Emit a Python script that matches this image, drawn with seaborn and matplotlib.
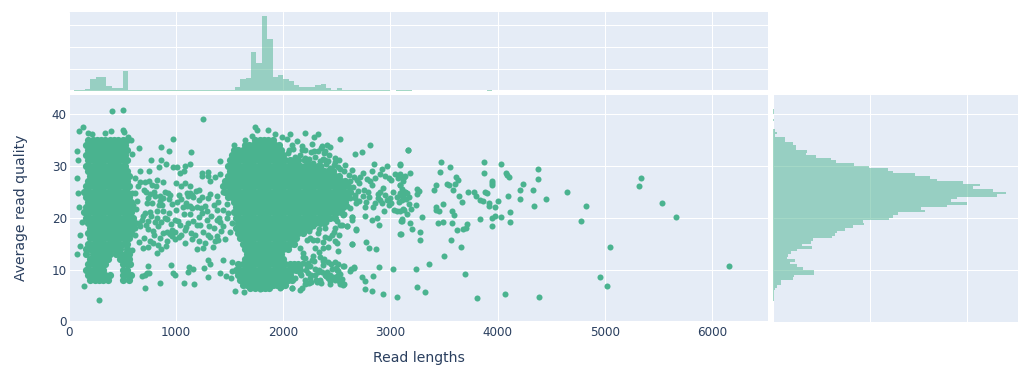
import pandas as pd
import matplotlib
matplotlib.use('Agg')
import matplotlib.pyplot as plt
import seaborn as sns

# read lengths, one list per horizontal band of the two dense clumps
short_q = [35, 34, 33, 32, 31, 30, 29, 28, 27, 26, 25, 24, 23, 22, 21, 20, 19, 18, 17, 16, 15, 14, 13, 12, 11, 10, 9, 8]
short_x = [
    [180, 220, 260, 300, 340, 380, 420, 460, 500, 540],
    [160, 200, 240, 280, 320, 360, 400, 440, 480, 520],
    [180, 220, 260, 300, 340, 380, 420, 460, 500, 540],
    [160, 200, 240, 280, 320, 360, 400, 440, 480, 520],
    [180, 220, 260, 300, 340, 380, 420, 460, 500, 540],
    [160, 200, 240, 280, 320, 360, 400, 440, 480, 520],
    [180, 220, 260, 300, 340, 380, 420, 460, 500, 540],
    [200, 240, 280, 320, 360, 400, 440, 480, 520, 560],
    [180, 220, 260, 300, 340, 380, 420, 460, 500, 540],
    [160, 200, 240, 280, 320, 360, 400, 440, 480, 520, 560],
    [140, 180, 220, 260, 300, 340, 380, 420, 460, 500, 540],
    [160, 200, 240, 280, 320, 360, 400, 440, 480, 520, 560],
    [180, 220, 260, 300, 340, 380, 420, 460, 500, 540, 580],
    [160, 200, 240, 280, 320, 360, 400, 440, 480, 520, 560, 590],
    [140, 180, 220, 260, 300, 340, 380, 420, 460, 500, 540, 580],
    [160, 200, 240, 280, 320, 360, 400, 440, 480, 520, 560, 600],
    [180, 220, 260, 300, 340, 380, 420, 460, 500, 540, 580, 620],
    [200, 240, 280, 320, 360, 400, 440, 480, 520, 560, 600],
    [180, 220, 260, 300, 340, 380, 420, 460, 500, 540, 580],
    [200, 240, 280, 320, 360, 400, 440, 480, 520, 560],
    [180, 220, 260, 300, 340, 380, 420, 460, 500, 540],
    [160, 200, 240, 280, 320, 360, 400, 440, 480, 540],
    [160, 220, 260, 300, 340, 380, 440, 480, 520, 560],
    [200, 240, 280, 320, 360, 480, 520, 560],
    [180, 220, 260, 300, 340, 500, 540, 570],
    [160, 200, 240, 280, 320, 500, 540],
    [180, 220, 260, 300, 340, 380, 500, 540, 580],
    [200, 240, 280, 320, 360, 500, 560],
]

long_q = [35, 34, 33, 32, 31, 30, 29, 28, 27, 26, 25, 24, 23, 22, 21, 20, 19, 18, 17, 16, 15, 14, 13, 12, 11, 10, 9, 8, 7, 6.4]
long_x = [
    [1740, 1780, 1820, 1860, 1900],
    [1640, 1680, 1720, 1760, 1800, 1840, 1880, 1920, 1960],
    [1540, 1580, 1620, 1660, 1700, 1740, 1780, 1820, 1860, 1900, 1940, 1980],
    [1520, 1560, 1600, 1640, 1680, 1720, 1760, 1800, 1840, 1880, 1920, 1960, 2000],
    [1500, 1540, 1580, 1620, 1660, 1700, 1740, 1780, 1820, 1860, 1900, 1940, 1980, 2020, 2060, 2100, 2140],
    [1480, 1520, 1560, 1600, 1640, 1680, 1720, 1760, 1800, 1840, 1880, 1920, 1960, 2000, 2040, 2080, 2120, 2160, 2200, 2240, 2280, 2320],
    [1500, 1540, 1580, 1620, 1660, 1700, 1740, 1780, 1820, 1860, 1900, 1940, 1980, 2020, 2060, 2100, 2140, 2180, 2220, 2260, 2300, 2340, 2380, 2420, 2460],
    [1480, 1520, 1560, 1600, 1640, 1680, 1720, 1760, 1800, 1840, 1880, 1920, 1960, 2000, 2040, 2080, 2120, 2160, 2200, 2240, 2280, 2320, 2360, 2400, 2440, 2480, 2520],
    [1460, 1500, 1540, 1580, 1620, 1660, 1700, 1740, 1780, 1820, 1860, 1900, 1940, 1980, 2020, 2060, 2100, 2140, 2180, 2220, 2260, 2300, 2340, 2380, 2420, 2460, 2500, 2540, 2580],
    [1440, 1480, 1520, 1560, 1600, 1640, 1680, 1720, 1760, 1800, 1840, 1880, 1920, 1960, 2000, 2040, 2080, 2120, 2160, 2200, 2240, 2280, 2320, 2360, 2400, 2440, 2480, 2520, 2560, 2600],
    [1460, 1500, 1540, 1580, 1620, 1660, 1700, 1740, 1780, 1820, 1860, 1900, 1940, 1980, 2020, 2060, 2100, 2140, 2180, 2220, 2260, 2300, 2340, 2380, 2420, 2460, 2500, 2540, 2580, 2620],
    [1480, 1520, 1560, 1600, 1640, 1680, 1720, 1760, 1800, 1840, 1880, 1920, 1960, 2000, 2040, 2080, 2120, 2160, 2200, 2240, 2280, 2320, 2360, 2400, 2440, 2480, 2520, 2560, 2600],
    [1540, 1580, 1620, 1660, 1700, 1740, 1780, 1820, 1860, 1900, 1940, 1980, 2020, 2060, 2100, 2140, 2180, 2220, 2260, 2300, 2340, 2380, 2420, 2460, 2500, 2540, 2580],
    [1560, 1600, 1640, 1680, 1720, 1760, 1800, 1840, 1880, 1920, 1960, 2000, 2040, 2080, 2120, 2160, 2200, 2240, 2280, 2320, 2360, 2400, 2440, 2480, 2520, 2560],
    [1540, 1580, 1620, 1660, 1700, 1740, 1780, 1820, 1860, 1900, 1940, 1980, 2020, 2060, 2100, 2140, 2180, 2220, 2260, 2300, 2340, 2380, 2420, 2460, 2500, 2540],
    [1560, 1600, 1640, 1680, 1720, 1760, 1800, 1840, 1880, 1920, 1960, 2000, 2040, 2080, 2120, 2160, 2200, 2240, 2280, 2320, 2360, 2400, 2440, 2480],
    [1580, 1620, 1660, 1700, 1740, 1780, 1820, 1860, 1900, 1940, 1980, 2020, 2060, 2100, 2140, 2180, 2220, 2260, 2300, 2340, 2380],
    [1560, 1600, 1640, 1680, 1720, 1760, 1800, 1840, 1880, 1920, 1960, 2000, 2040, 2080, 2120, 2160, 2200, 2240],
    [1580, 1620, 1660, 1700, 1740, 1780, 1820, 1860, 1900, 1940, 1980, 2020, 2060, 2100, 2140, 2180],
    [1600, 1640, 1680, 1720, 1760, 1800, 1840, 1880, 1920, 1960, 2000, 2040, 2080, 2120],
    [1620, 1660, 1700, 1740, 1780, 1820, 1860, 1900, 1940, 1980, 2020, 2060, 2100],
    [1640, 1680, 1720, 1760, 1800, 1840, 1880, 1920, 1960, 2000, 2040],
    [1660, 1700, 1740, 1780, 1820, 1860, 1900, 1940, 1980],
    [1640, 1680, 1720, 1760, 1800, 1840, 1880, 1920, 1960, 2000],
    [1580, 1620, 1660, 1700, 1740, 1780, 1820, 1860, 1900, 1940, 1980, 2020, 2060, 2100, 2140],
    [1560, 1600, 1640, 1680, 1720, 1760, 1800, 1840, 1880, 1920, 1960, 2000, 2040, 2080, 2120, 2160],
    [1580, 1620, 1660, 1700, 1740, 1780, 1820, 1860, 1900, 1940, 1980, 2020, 2060],
    [1600, 1640, 1680, 1720, 1760, 1800, 1840, 1880, 1920, 1960, 2000, 2040, 2080],
    [1620, 1660, 1700, 1740, 1780, 1820, 1860, 1900, 1940, 1980, 2020],
    [1690, 1740, 1790, 1830, 1870],
]

# scattered points left of and between the clumps
gap_x = [405, 508, 1252, 134, 97, 277, 140, 78, 81, 75,
         81, 90, 121, 103, 103, 78, 181, 212, 336, 389,
         502, 514, 555, 579, 651, 586, 763, 857, 935, 975,
         1140, 860, 906, 841, 969, 1012, 1084, 1125, 1037, 1075,
         1240, 1302, 1240, 1302, 1364, 1414, 1411, 617, 664, 751,
         664, 710, 751, 819, 717, 813, 1084, 1044, 928, 850,
         1028, 1100, 1125, 1187, 1218, 1109, 1162, 1240, 1302, 1380,
         1442, 586, 617, 741, 601, 632, 804, 882, 944, 1106,
         1131, 1199, 1271, 1349, 726, 773, 819, 757, 710, 882,
         1000, 1069, 1131, 1240, 1287, 1380, 1442, 679, 741, 819,
         913, 991, 1115, 1193, 1287, 1380, 1473, 664, 735, 835,
         913, 991, 1084, 1178, 1255, 1349, 1442, 1520, 704, 657,
         757, 850, 913, 991, 1084, 1271, 1380, 1505, 695, 741,
         857, 906, 1199, 1255, 1343, 1364, 819, 586, 735, 732,
         953, 975, 991, 1122, 1115, 1162, 1262, 1293, 1318, 1299,
         1411, 1442, 1464, 1517, 1520, 1514, 1075, 1165, 850, 710,
         679, 710, 751, 1551, 1632,
         640, 700, 775, 790, 845, 870, 895, 930, 960, 1005,
         1050, 1090, 1150, 1210, 1320, 1395, 1460, 1490, 630, 690,
         770, 800, 840, 900, 950, 1020, 1060, 1150, 1230, 1330,
         1400, 1480, 650, 720, 780, 860, 935, 965, 1040, 1095,
         1160, 1215, 1310, 1410, 1475, 620, 790, 880, 960, 1030,
         1140, 1225, 1300, 1420, 1490, 780, 830, 940, 1050, 1150,
         1210, 1315, 1395, 1460, 620, 760, 880, 1000, 1130, 1320]
gap_q = [40.5, 40.8, 38.9, 37.4, 36.6, 4.1, 6.9, 32.9, 31.0, 27.7,
         24.7, 22.0, 19.2, 16.6, 14.6, 13.0, 36.2, 36.0, 36.3, 36.6,
         36.9, 36.5, 35.6, 35.0, 33.4, 32.2, 31.1, 33.6, 32.8, 35.1,
         32.7, 31.0, 30.4, 29.7, 29.7, 29.8, 30.0, 30.3, 28.6, 29.0,
         28.6, 28.8, 28.1, 28.1, 27.9, 30.8, 28.4, 27.6, 29.0, 29.0,
         26.8, 26.8, 27.1, 27.2, 25.0, 26.0, 26.7, 26.0, 24.7, 24.1,
         24.3, 24.7, 24.7, 25.2, 25.4, 24.1, 23.9, 23.9, 23.8, 24.1,
         25.0, 24.7, 24.7, 23.8, 22.5, 23.1, 24.1, 23.8, 24.4, 22.3,
         22.3, 22.0, 22.2, 22.5, 22.8, 22.8, 21.2, 21.1, 20.9, 21.2,
         21.4, 20.6, 20.6, 20.9, 21.2, 21.5, 21.5, 19.6, 19.4, 19.9,
         19.8, 19.6, 18.9, 18.6, 19.6, 19.6, 19.9, 18.3, 17.9, 18.3,
         17.3, 17.3, 17.7, 16.7, 17.3, 18.0, 18.3, 18.9, 16.1, 15.3,
         15.4, 16.1, 15.4, 15.9, 15.1, 15.1, 16.4, 17.3, 14.1, 14.3,
         14.0, 14.5, 14.0, 14.1, 14.3, 15.4, 13.2, 13.8, 10.7, 9.3,
         10.8, 9.4, 9.0, 10.5, 9.6, 10.1, 10.3, 11.8, 11.0, 8.5,
         9.4, 11.9, 8.7, 11.4, 9.8, 8.3, 7.4, 7.2, 7.4, 6.4,
         8.7, 9.0, 9.3, 5.8, 5.7,
         26.1, 25.4, 26.2, 24.9, 23.1, 22.4, 24.9, 23.5, 22.7, 23.0,
         23.6, 22.8, 24.3, 23.4, 24.6, 23.0, 26.3, 24.2, 21.7, 20.3,
         20.4, 19.2, 22.5, 20.0, 18.8, 19.4, 22.0, 21.9, 21.8, 20.4,
         20.0, 20.8, 19.0, 18.6, 17.5, 19.2, 20.9, 17.6, 18.5, 18.2,
         19.3, 20.2, 18.4, 19.1, 22.6, 16.7, 16.6, 17.1, 16.4, 16.3,
         17.1, 18.5, 16.7, 17.4, 26.8, 15.2, 14.8, 16.8, 16.7, 15.8,
         15.4, 16.2, 15.6, 15.9, 18.0, 24.6, 26.9, 26.6, 26.0, 27.1]

# points around the edge of the long clump
edge_x = [1779, 1832, 1978, 2081, 2159, 2237, 2315, 2564, 2533, 2548,
          2564, 2636, 2664, 2735, 2766, 2835, 2760, 2832, 2931, 3059,
          2891, 3022, 2642, 2682, 2776, 2798, 2869, 3093, 2894, 2766,
          2642, 2642, 2595, 2829, 2875, 2938, 3062, 3125, 3109, 2527,
          2807, 2673, 2735, 2850, 3087, 3165, 2206, 2321, 2283, 1925,
          1988, 2034, 2065, 2084, 2174, 2268, 2361, 2408, 2439, 2174,
          2283, 2377, 1738, 1754, 1854, 1645, 1707, 1536, 1567, 2486,
          2517, 2579, 2642, 2744, 2829, 2922, 2969, 2907, 2984, 3047,
          3093, 3140, 2704, 2626, 2813, 2829, 2751, 2907, 2673, 2626,
          2704, 2776, 2860, 2953, 3000, 2922, 2984, 3031, 3093, 3140,
          3093, 2595, 2564, 2502, 2548, 2517, 2486, 2188, 2203, 2266,
          2343, 2421, 2483, 2219, 2157, 2297, 2374, 2452, 2499, 2157,
          2234, 2297, 2390, 2468, 2110, 2250, 2343, 2421, 2483, 2546,
          2219, 2172, 2079, 1970, 2561, 2514, 2623, 2661, 2561, 2530,
          2281, 2328, 2390, 2452, 2499, 2312, 2297, 2374, 2421, 2514,
          2250, 2157, 2219, 2390, 2530, 2592, 2561, 2639, 2676, 2639,
          2483, 2188,
          2050, 2110, 2160, 2200, 2240, 2300, 2340, 2390, 2040, 2090,
          2130, 2200, 2260, 2320, 2370, 2420, 2190, 2230, 2280, 2350,
          2400, 2440, 2470, 2510, 2350, 2390, 2430, 2480, 2530, 2570,
          2610, 2660, 2690, 2720, 2780, 2860, 2950, 3010, 3070, 3120,
          2650, 2700, 2790, 2880, 2930, 3020, 3110, 2620, 2670, 2740,
          2800, 2880, 2970, 3060, 2620, 2680, 2760, 2840, 2900, 3010,
          3080, 2240, 2280, 2330, 2370, 2430, 2470, 2270, 2330, 2400,
          2180, 2210, 2250, 2290, 2330, 2370, 2410, 2450, 2490, 2530,
          2170, 2200, 2260, 2310, 2360, 2400, 2440, 2500, 2180, 2230,
          2280, 2320, 2380, 2440, 2510, 2200, 2260, 2350, 2440, 2520]
edge_q = [6.3, 6.4, 6.6, 6.4, 6.1, 7.4, 7.6, 7.2, 7.2, 8.2,
          10.7, 10.1, 10.3, 8.5, 7.7, 8.7, 6.2, 5.8, 5.3, 4.8,
          10.5, 10.1, 15.0, 17.7, 15.3, 14.1, 13.9, 16.8, 18.5, 20.4,
          20.2, 19.6, 18.3, 19.5, 20.0, 21.2, 21.2, 21.5, 19.4, 35.2,
          34.0, 32.2, 32.6, 30.3, 30.3, 33.1, 36.3, 36.0, 35.5, 36.1,
          35.5, 35.2, 36.1, 34.0, 33.7, 34.2, 33.7, 34.0, 33.6, 33.1,
          32.8, 32.4, 37.4, 36.9, 36.9, 35.0, 35.8, 34.0, 33.1, 31.5,
          31.1, 30.2, 29.2, 28.6, 29.0, 29.4, 29.9, 28.3, 27.6, 28.3,
          28.3, 28.0, 26.7, 27.0, 27.0, 26.3, 25.4, 25.0, 24.4, 23.8,
          23.1, 23.0, 22.8, 24.4, 23.8, 22.8, 22.5, 21.5, 24.7, 25.0,
          26.3, 22.2, 20.6, 19.3, 18.6, 16.7, 15.4, 13.1, 12.2, 11.9,
          12.5, 11.5, 11.5, 10.6, 10.6, 10.2, 10.9, 10.2, 9.9, 9.3,
          9.3, 9.0, 9.0, 8.6, 8.3, 8.3, 8.0, 8.3, 8.0, 7.4,
          7.4, 6.4, 6.4, 6.4, 10.7, 9.8, 9.8, 10.4, 7.0, 8.0,
          18.3, 17.0, 16.3, 16.7, 15.1, 15.7, 14.1, 14.1, 14.4, 13.6,
          16.0, 14.1, 15.7, 18.0, 18.6, 18.3, 20.5, 20.2, 17.8, 14.9,
          18.0, 17.0,
          33.0, 31.7, 32.1, 31.5, 31.2, 31.6, 30.9, 31.0, 32.5, 33.2,
          34.7, 33.0, 32.6, 32.9, 31.3, 30.8, 31.0, 30.6, 30.5, 29.9,
          30.4, 29.5, 30.2, 29.8, 33.4, 32.9, 32.1, 30.7, 29.4, 28.9,
          28.2, 27.8, 27.2, 27.9, 27.5, 27.6, 28.0, 27.3, 27.7, 27.1,
          25.9, 25.1, 24.9, 24.5, 25.7, 25.0, 25.6, 24.9, 23.7, 24.1,
          23.9, 23.7, 23.3, 24.0, 21.9, 22.8, 22.0, 22.1, 23.4, 22.9,
          23.0, 17.4, 15.6, 17.9, 15.3, 16.1, 17.3, 19.1, 13.3, 19.2,
          11.2, 9.9, 10.7, 11.6, 10.0, 11.7, 9.6, 11.1, 10.3, 9.2,
          8.9, 8.0, 8.9, 7.9, 9.6, 8.7, 7.7, 8.7, 12.4, 11.3,
          12.6, 9.5, 12.0, 9.0, 11.0, 7.3, 7.6, 7.5, 7.2, 7.8]

# the long tail on the right
tail_x = [3162, 3474, 3555, 3875, 4034, 4377, 3461, 3878, 3611, 3629,
          4078, 4087, 4106, 4380, 5336, 5324, 3947, 3950, 3944, 4240,
          4212, 4333, 4648, 3427, 3411, 3533, 3551, 3604, 3586, 3885,
          3903, 3726, 3776, 3801, 3642, 3667, 3832, 3869, 3922, 4003,
          4097, 4206, 4455, 4340, 4826, 5536, 5667, 4778, 3430, 3427,
          3458, 3492, 3579, 3598, 3922, 3975, 4112, 3978, 3944, 4037,
          3832, 3717, 3707, 3676, 3620, 3573, 3492, 3442, 4118, 3944,
          3299, 3184, 3199, 3274, 3274, 3567, 3660, 5050, 3498, 3361,
          3240, 6162, 3698, 4956, 5022, 3249, 3321, 3804, 4069, 4389,
          3100, 3246, 3246, 3265, 3184, 3090, 3106, 3131, 3090, 3137,
          3153, 3178, 3121, 3146, 3090, 3106, 3240, 3178, 3193, 3121,
          3090, 3153, 3112, 3096]
tail_q = [33.0, 30.7, 29.7, 30.7, 30.3, 29.4, 28.8, 28.5, 27.9, 27.2,
          28.5, 28.2, 27.8, 27.4, 27.6, 26.1, 27.0, 26.7, 26.3, 26.5,
          25.4, 25.4, 25.0, 26.3, 25.3, 26.5, 26.3, 26.5, 25.3, 25.0,
          24.7, 24.9, 25.0, 24.2, 24.2, 23.0, 23.3, 23.1, 22.8, 23.1,
          24.2, 23.5, 23.6, 22.2, 22.3, 22.9, 20.2, 19.3, 22.0, 21.5,
          21.2, 22.6, 21.2, 20.5, 22.2, 22.0, 21.1, 20.3, 19.9, 20.2,
          19.8, 18.8, 18.0, 17.9, 17.7, 18.9, 19.1, 18.9, 19.1, 18.4,
          20.1, 19.0, 17.8, 17.3, 15.6, 15.6, 14.3, 14.3, 12.7, 11.1,
          10.1, 10.7, 9.1, 8.6, 6.9, 6.6, 5.7, 4.5, 5.3, 4.7,
          16.8, 25.5, 24.6, 25.1, 28.6, 30.2, 27.9, 27.8, 26.2, 24.9,
          24.7, 24.0, 24.1, 23.6, 24.4, 23.4, 22.4, 22.6, 21.6, 21.6,
          21.2, 20.6, 19.8, 19.4]

# marginal histogram on top: left edge of each 50-long bin and its height
length_edges = [50, 100, 150, 200, 250, 300, 350, 400, 450, 500, 550,
                600, 650, 700, 750, 800, 850, 900, 950, 1000, 1050, 1100, 1150, 1200, 1250, 1300, 1350, 1400, 1450,
                1500, 1550, 1600, 1650, 1700, 1750, 1800, 1850, 1900, 1950,
                2000, 2050, 2100, 2150, 2200, 2250, 2300, 2350, 2400, 2450, 2500,
                2550, 2600, 2650, 2700, 2750, 2800, 2850, 2900, 2950, 3050, 3100, 3150, 3900]
length_counts = [4, 4, 9, 55, 64, 64, 23, 14, 14, 91, 5,
                 3, 3, 3, 3, 3, 3, 3, 3, 3, 3, 3, 3, 3, 3, 3, 3, 3, 3,
                 5, 18, 55, 59, 177, 127, 341, 236, 64, 73,
                 55, 45, 27, 18, 18, 18, 27, 32, 14, 5, 14,
                 3, 3, 3, 3, 3, 3, 3, 3, 3, 3, 3, 3, 3]

# marginal histogram on the right: lower edge of each 0.5 bin and its width
quality_edges = [40.5, 40.0, 38.5, 36.5, 36.0, 35.5, 35.0, 34.5, 34.0, 33.5, 33.0, 32.5, 32.0, 31.5, 31.0, 30.5,
                 30.0, 29.5, 29.0, 28.5, 28.0, 27.5, 27.0, 26.5, 26.0, 25.5, 25.0, 24.5, 24.0, 23.5, 23.0,
                 22.5, 22.0, 21.5, 21.0, 20.5, 20.0, 19.5, 19.0, 18.5, 18.0, 17.5, 17.0, 16.5, 16.0, 15.5,
                 15.0, 14.5, 14.0, 13.5, 13.0, 12.5, 12.0, 11.5, 11.0, 10.5, 10.0, 9.5, 9.0, 8.5, 8.0, 7.5,
                 7.0, 6.5, 6.0, 5.5, 5.0, 4.5, 4.0]
quality_counts = [1, 1, 1, 2, 4, 2, 12, 12, 21, 24, 24, 35, 34, 44, 60, 65,
                  84, 99, 119, 124, 146, 162, 169, 196, 213, 206, 227, 240, 231, 190, 184,
                  200, 179, 153, 157, 129, 124, 120, 93, 94, 82, 74, 66, 64, 61, 41,
                  39, 30, 40, 25, 19, 15, 14, 23, 18, 25, 31, 42, 42, 22, 21, 8,
                  8, 4, 2, 1, 1, 1, 1]

x_ticks = [0, 1000, 2000, 3000, 4000, 5000, 6000]
y_ticks = [0, 10, 20, 30, 40]
count_ticks = [100, 200, 300]
side_ticks = [100, 200]

W, H = 1034, 376
GREEN = '#4AB38F'
BG = '#E5ECF6'
INK = '#2A3F5F'

sns.set_theme(style='darkgrid', rc={'axes.facecolor': BG, 'grid.color': 'white', 'grid.linewidth': 0.75,
                                    'axes.edgecolor': BG, 'axes.linewidth': 0})
plt.rcParams['font.family'] = ['DejaVu Sans']

clump_rows = []
for q, xs in zip(short_q, short_x):
    clump_rows += [(x, q) for x in xs]
for q, xs in zip(long_q, long_x):
    clump_rows += [(x, q) for x in xs]
clumps = pd.DataFrame(clump_rows, columns=['length', 'quality'])
loose = pd.DataFrame(list(zip(gap_x + edge_x + tail_x, gap_q + edge_q + tail_q)), columns=['length', 'quality'])
print(len(gap_x), len(gap_q), len(edge_x), len(edge_q), len(tail_x), len(tail_q), len(clumps))
print(len(length_edges), len(length_counts), len(quality_edges), len(quality_counts))


def box(left, top, right, bottom):
    return [left / W, 1 - bottom / H, (right - left) / W, (bottom - top) / H]


fig = plt.figure(figsize=(W / 100, H / 100), dpi=100, facecolor='white')
ax = fig.add_axes(box(69, 95, 768, 321.5))
ax_top = fig.add_axes(box(69, 12, 768, 91))
ax_side = fig.add_axes(box(773, 95, 1018, 321.5))

sns.scatterplot(data=clumps, x='length', y='quality', color=GREEN, s=27, linewidth=0, ax=ax, zorder=3)
sns.scatterplot(data=loose, x='length', y='quality', color=GREEN, s=19, linewidth=0, ax=ax, zorder=3)
ax.set_xlim(0, 6525)
ax.set_ylim(0, 43.6)
ax.set_xticks(x_ticks)
ax.set_yticks(y_ticks)
ax.tick_params(axis='both', length=0, labelsize=8.64, labelcolor=INK)
ax.tick_params(axis='x', pad=3)
ax.tick_params(axis='y', pad=1.5)
ax.set_xlabel('Read lengths', fontsize=10.08, color=INK, labelpad=9)
ax.set_ylabel('Average read quality', fontsize=10.08, color=INK, labelpad=17)
ax.axhline(0, color='white', lw=1.5, zorder=2)
ax.axvline(0, color='white', lw=1.5, zorder=2)

top_bins = sorted(set(length_edges + [x + 50 for x in length_edges]))
top_df = pd.DataFrame({'length': [x + 25 for x in length_edges], 'count': length_counts})
sns.histplot(data=top_df, x='length', weights='count', bins=top_bins, color=GREEN, alpha=0.5,
             linewidth=0, ax=ax_top, zorder=3)
ax_top.set_xlim(0, 6525)
ax_top.set_ylim(0, 359)
ax_top.set_xticks(x_ticks)
ax_top.set_yticks(count_ticks)
ax_top.tick_params(length=0, labelbottom=False, labelleft=False)
ax_top.set_xlabel('')
ax_top.set_ylabel('')
ax_top.axhline(0, color='white', lw=1.5, zorder=2)

side_bins = sorted(set(quality_edges + [q + 0.5 for q in quality_edges]))
side_df = pd.DataFrame({'quality': [q + 0.25 for q in quality_edges], 'count': quality_counts})
sns.histplot(data=side_df, y='quality', weights='count', bins=side_bins, color=GREEN, alpha=0.5,
             linewidth=0, ax=ax_side, zorder=3)
ax_side.set_xlim(0, 252.6)
ax_side.set_ylim(0, 43.6)
ax_side.set_xticks(side_ticks)
ax_side.set_yticks(y_ticks[1:])
ax_side.tick_params(length=0, labelbottom=False, labelleft=False)
ax_side.set_xlabel('')
ax_side.set_ylabel('')
ax_side.axvline(0, color='white', lw=1.5, zorder=2)

for a in (ax, ax_top, ax_side):
    sns.despine(ax=a, left=True, bottom=True)
    a.set_axisbelow(True)

fig.savefig('out.png', dpi=100)
